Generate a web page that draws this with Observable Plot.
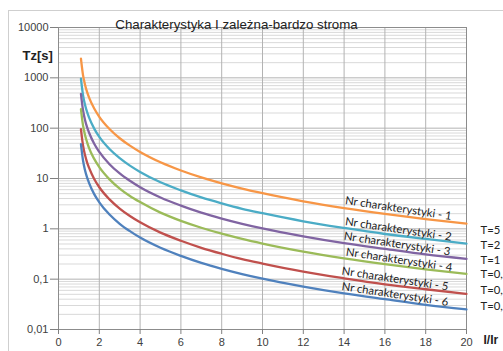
<!DOCTYPE html>
<html><head><meta charset="utf-8">
<script src="https://cdn.jsdelivr.net/npm/d3@7"></script>
<script src="https://cdn.jsdelivr.net/npm/@observablehq/plot@0.6"></script>
<style>
body{margin:0;background:#fff;overflow:hidden}
#wrap{position:relative;width:503px;height:351px;overflow:hidden}
#border{position:absolute;left:8px;top:10px;width:600px;height:400px;border:1px solid #cfcfcf;pointer-events:none}
</style>
</head><body><div id="wrap"><div id="chart"></div><div id="border"></div></div>
<script>
const title = "Charakterystyka I zależna-bardzo stroma";
const yTitle = "Tz[s]";
const xTitle = "I/Ir";
const xs = [1.1,1.2,1.3,1.4,1.5,1.75,2,2.5,3,3.5,4,5,6,7,8,9,10,12,14,16,18,20];
const curve1 = [2405,1148,732,526,404,245,168,96,63,45,33.7,21,14.4,10.5,8.0,6.3,5.1,3.53,2.59,1.98,1.56,1.27];
const curve2 = [962,459,293,210,162,98,67,38.5,25.3,18,13.5,8.4,5.8,4.2,3.2,2.5,2.04,1.41,1.04,0.79,0.63,0.51];
const curve3 = [481,230,146,105,81,49,33.7,19.2,12.6,9.0,6.7,4.2,2.9,2.1,1.6,1.26,1.02,0.71,0.52,0.40,0.31,0.253];
const curve4 = [240,115,73,53,40,24.5,16.8,9.6,6.3,4.5,3.4,2.1,1.44,1.05,0.80,0.63,0.51,0.353,0.259,0.198,0.156,0.127];
const curve5 = [96,46,29.3,21,16.2,9.8,6.7,3.85,2.53,1.8,1.35,0.84,0.58,0.42,0.32,0.25,0.204,0.141,0.104,0.079,0.063,0.051];
const curve6 = [48,23,14.6,10.5,8.1,4.9,3.37,1.92,1.26,0.90,0.67,0.42,0.29,0.21,0.16,0.126,0.102,0.071,0.052,0.040,0.031,0.025];
const seriesNames = ["Nr charakterystyki - 1","Nr charakterystyki - 2","Nr charakterystyki - 3","Nr charakterystyki - 4","Nr charakterystyki - 5","Nr charakterystyki - 6"];
const colors = ["#F79646","#4BACC6","#8064A2","#9BBB59","#C0504D","#4F81BD"];
const labelX = [16.66,16.66,16.6,16.7,16.5,16.5];
const labelY = [2.55,0.98,0.50,0.242,0.101,0.050];
const tLabels = ["T=5","T=2","T=1","T=0,5","T=0,2","T=0,1"];
const tLabelY = [0.93,0.47,0.237,0.125,0.06,0.0288];
const xTicks = [0,2,4,6,8,10,12,14,16,18,20];
const yTicks = [0.01,0.1,1,10,100,1000,10000];

const all = [curve1,curve2,curve3,curve4,curve5,curve6];
const rows = [];
all.forEach((c,i)=>c.forEach((v,j)=>rows.push({x:xs[j],y:v,s:seriesNames[i]})));
const labels = seriesNames.map((s,i)=>({x:labelX[i],y:labelY[i],s}));
const tl = tLabels.map((t,i)=>({t,y:tLabelY[i]}));
const minor = [];
for (let d=0; d<6; d++) for (let k=2;k<10;k++) minor.push(yTicks[d]*k);
const fmt = v => String(v).replace(".", ",");

const chart = Plot.plot({
  width:503, height:351,
  marginLeft:58, marginRight:37, marginTop:27, marginBottom:22,
  style:{fontFamily:"Liberation Sans, Arial, sans-serif", background:"transparent", overflow:"visible"},
  x:{domain:[0,20]},
  y:{type:"log", domain:[0.01,10000]},
  color:{domain:seriesNames, range:colors},
  marks:[
    Plot.ruleY(minor,{stroke:"#d9d9d9",strokeWidth:1}),
    Plot.ruleY(yTicks,{stroke:"#b3b3b3",strokeWidth:1}),
    Plot.ruleX(xTicks,{stroke:"#b3b3b3",strokeWidth:1}),
    Plot.frame({stroke:"#8c8c8c",strokeWidth:1}),
    Plot.axisX({ticks:xTicks, tickSize:5, tickPadding:4, fontSize:11, color:"#404040", stroke:"#808080", label:null}),
    Plot.axisY({ticks:yTicks, tickFormat:fmt, tickSize:8, tickPadding:2, fontSize:11, color:"#404040", stroke:"#808080", label:null}),
    Plot.lineY(rows,{x:"x",y:"y",stroke:"s",strokeWidth:2.3,curve:"monotone-x"}),
    Plot.text(labels,{x:"x",y:"y",text:"s",rotate:8.5,fontSize:11.3,fill:"#222",fontFamily:"Lato, sans-serif"}),
    Plot.text(tl,{x:()=>20,y:"y",text:"t",textAnchor:"start",dx:14,fontSize:11.3,fill:"#222",fontFamily:"Lato, sans-serif",clip:false}),
    Plot.text([title],{frameAnchor:"top",dy:-8,dx:-26,text:d=>d,fontSize:13.3,fill:"#222"}),
    Plot.text([yTitle],{frameAnchor:"top-left",dx:-36,dy:23,text:d=>d,fontSize:13,fontWeight:"bold",fill:"#222"}),
    Plot.text([xTitle],{frameAnchor:"bottom-right",dx:17,dy:14,text:d=>d,textAnchor:"start",fontSize:12,fontWeight:"bold",fill:"#222"})
  ]
});
document.getElementById("chart").appendChild(chart);
</script>
</body></html>
